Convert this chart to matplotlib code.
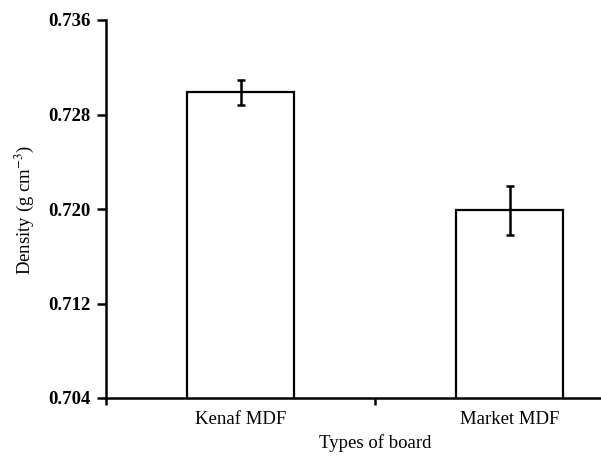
import matplotlib
matplotlib.use("Agg")
import matplotlib.pyplot as plt

categories = ["Kenaf MDF", "Market MDF"]
density = [0.7299, 0.7199]
errors = [0.00106, 0.00206]
yticks = [0.704, 0.712, 0.720, 0.728, 0.736]

plt.rcParams['font.family'] = ['Liberation Serif', 'DejaVu Serif']
plt.rcParams['mathtext.fontset'] = 'stix'

W, H = 601, 459
fig = plt.figure(figsize=(W/100, H/100), dpi=100)
ax = fig.add_axes([106/W, (H-398)/H, 538/W, 378/H])

pos = [0.5 + i for i in range(len(categories))]
ax.bar(pos, density, width=0.4, bottom=0, color='white', edgecolor='black', linewidth=1.6, zorder=2)
ax.errorbar(pos, density, yerr=errors, fmt='none', ecolor='black', elinewidth=1.8, capsize=3.2, capthick=1.8, zorder=3)

ax.set_ylim(0.704, 0.736)
ax.set_xlim(0, 2)
ax.set_yticks(yticks)
ax.set_yticklabels([f"{t:.3f}" for t in yticks], fontsize=13.5, fontweight='bold')
ax.set_xticks([0, 1, 2])
ax.set_xticklabels([])
ax.set_xticks(pos, minor=True)
ax.set_xticklabels(categories, minor=True, fontsize=13.5)
ax.tick_params(axis='x', which='minor', length=0, pad=9)
ax.tick_params(axis='x', which='major', direction='out', length=5, width=1.8)
ax.tick_params(axis='y', direction='out', length=6.5, width=1.8, pad=4.5)

for s in ['top', 'right']:
    ax.spines[s].set_visible(False)
for s in ['left', 'bottom']:
    ax.spines[s].set_linewidth(1.8)

ax.set_xlabel("Types of board", fontsize=13.5)
ax.xaxis.set_label_coords((375-106)/538, -(434-398)/378)
ax.set_ylabel("Density (g cm$^{-3}$)", fontsize=13.5)
ax.yaxis.set_label_coords((36-106)/538, (398-210)/378)

fig.savefig("out.png", dpi=100)
